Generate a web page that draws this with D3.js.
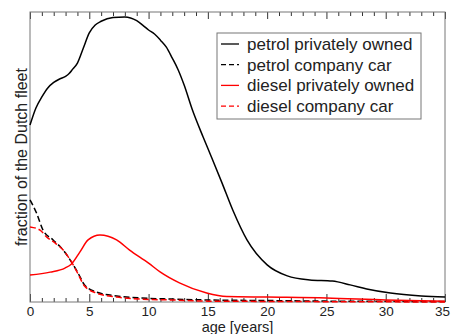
<!DOCTYPE html>
<html>
<head>
<meta charset="utf-8">
<script src="https://cdn.jsdelivr.net/npm/d3@7/dist/d3.min.js"></script>
<style>
  body { margin: 0; background: #fff; }
  svg text { font-family: "Liberation Sans", Arial, sans-serif; fill: #222; }
</style>
</head>
<body>
<svg class="svg-chart" width="451" height="334"></svg>
<script>
// age in years, fraction in arbitrary (unlabelled) units
const petrolPrivate = [
  [0, 0.610], [0.5, 0.669], [1, 0.707], [1.5, 0.738], [2, 0.757], [2.5, 0.769],
  [3, 0.778], [3.3, 0.788], [3.6, 0.803], [4, 0.824], [4.5, 0.876], [5, 0.928],
  [5.5, 0.955], [6, 0.968], [7, 0.981], [8, 0.983], [9, 0.970], [9.5, 0.955],
  [10, 0.938], [10.5, 0.924], [11, 0.903], [11.5, 0.879], [12, 0.841],
  [12.5, 0.800], [13, 0.748], [13.7, 0.662], [14.6, 0.569], [15.3, 0.500],
  [16.2, 0.410], [17.1, 0.317], [18.3, 0.214], [20, 0.128], [21.7, 0.090],
  [23.6, 0.076], [25.5, 0.072], [27, 0.059], [28.4, 0.045], [30.4, 0.031],
  [33, 0.021], [35, 0.017]
];
const petrolCompany = [
  [0, 0.352], [0.55, 0.307], [1.1, 0.248], [1.95, 0.214], [2.8, 0.179],
  [3.5, 0.138], [4.05, 0.100], [4.6, 0.059], [5.6, 0.034], [7.3, 0.021],
  [9.3, 0.014], [12, 0.010], [15, 0.007], [20, 0.005], [25, 0.003], [35, 0.002]
];
const dieselPrivate = [
  [0, 0.093], [1.7, 0.103], [2.95, 0.117], [3.5, 0.131], [4.2, 0.172],
  [4.9, 0.214], [5.9, 0.231], [7.3, 0.214], [8.4, 0.179], [10, 0.134],
  [11, 0.103], [12.6, 0.066], [14.9, 0.031], [16.6, 0.019], [20, 0.017],
  [25, 0.014], [30, 0.007], [35, 0.003]
];
const dieselCompany = [
  [0, 0.259], [0.85, 0.248], [1.4, 0.224], [2, 0.207], [2.8, 0.179],
  [3.5, 0.138], [4.05, 0.097], [4.6, 0.055], [5.6, 0.031], [7.3, 0.017],
  [9.3, 0.010], [12, 0.007], [15, 0.003], [20, 0.002], [35, 0.000]
];
const seriesNames = [
  'petrol privately owned', 'petrol company car',
  'diesel privately owned', 'diesel company car'
];
const xTicks = [0, 5, 10, 15, 20, 25, 30, 35];

const series = [
  { name: seriesNames[0], data: petrolPrivate, color: '#000', dash: null },
  { name: seriesNames[1], data: petrolCompany, color: '#000', dash: '6,3' },
  { name: seriesNames[2], data: dieselPrivate, color: '#ff0000', dash: null },
  { name: seriesNames[3], data: dieselCompany, color: '#ff0000', dash: '6,3' }
];

const svg = d3.select('.svg-chart');
const margin = { top: 12, right: 6, bottom: 32, left: 30 };
const width = +svg.attr('width') - margin.left - margin.right;
const height = +svg.attr('height') - margin.top - margin.bottom;

const x = d3.scaleLinear().domain([0, 35]).range([0, width]);
const y = d3.scaleLinear().domain([0, 1]).range([height, 0]);

const g = svg.append('g')
  .attr('transform', 'translate(' + margin.left + ',' + margin.top + ')');

// bottom axis: ticks inside, labels below
const xAxisBottom = g.append('g')
  .attr('transform', 'translate(0,' + height + ')')
  .call(d3.axisBottom(x).tickValues(xTicks).tickSize(-8).tickPadding(4));
xAxisBottom.select('.domain').remove();
xAxisBottom.selectAll('text')
  .attr('font-size', 13.5)
  .attr('dx', d => d === 35 ? -3 : 0)
  .style('fill', '#222');
xAxisBottom.append('g')
  .call(d3.axisBottom(x).tickValues(d3.range(0, 36).filter(d => d % 5)).tickSize(-4).tickFormat(''))
  .select('.domain').remove();

// top axis: ticks only
const xAxisTop = g.append('g')
  .call(d3.axisTop(x).tickValues(xTicks).tickSize(-7).tickFormat(''));
xAxisTop.select('.domain').remove();
xAxisTop.append('g')
  .call(d3.axisTop(x).tickValues(d3.range(0, 36).filter(d => d % 5)).tickSize(-4).tickFormat(''))
  .select('.domain').remove();

g.selectAll('.tick line').attr('stroke', '#333');

// frame
g.append('rect')
  .attr('width', width)
  .attr('height', height)
  .attr('fill', 'none')
  .attr('stroke', '#777')
  .attr('stroke-width', 1);

const line = d3.line()
  .curve(d3.curveMonotoneX)
  .x(d => x(d[0]))
  .y(d => y(d[1]));

g.selectAll('.series')
  .data(series)
  .enter()
  .append('path')
  .attr('class', 'series')
  .attr('d', d => line(d.data))
  .attr('fill', 'none')
  .attr('stroke', d => d.color)
  .attr('stroke-width', 1.5)
  .attr('stroke-dasharray', d => d.dash);

// axis labels
svg.append('text')
  .attr('x', margin.left + width / 2)
  .attr('y', 332)
  .attr('text-anchor', 'middle')
  .attr('font-size', 14.5)
  .text('age [years]');

svg.append('text')
  .attr('transform', 'translate(27,' + (margin.top + height / 2) + ') rotate(-90)')
  .attr('text-anchor', 'middle')
  .attr('font-size', 16)
  .text('fraction of the Dutch fleet');

// legend
const legend = svg.append('g').attr('transform', 'translate(217,33)');
legend.append('rect')
  .attr('width', 204)
  .attr('height', 86)
  .attr('fill', '#fff')
  .attr('stroke', '#777');
const items = legend.selectAll('.item')
  .data(series)
  .enter()
  .append('g')
  .attr('class', 'item')
  .attr('transform', (d, i) => 'translate(0,' + (11 + i * 20.7) + ')');
items.append('line')
  .attr('x1', 4).attr('x2', 22)
  .attr('stroke', d => d.color)
  .attr('stroke-width', 1.3)
  .attr('stroke-dasharray', d => d.dash ? '5,3' : null);
items.append('text')
  .attr('x', 30)
  .attr('dy', '0.35em')
  .attr('font-size', 17)
  .text(d => d.name);
</script>
</body>
</html>
